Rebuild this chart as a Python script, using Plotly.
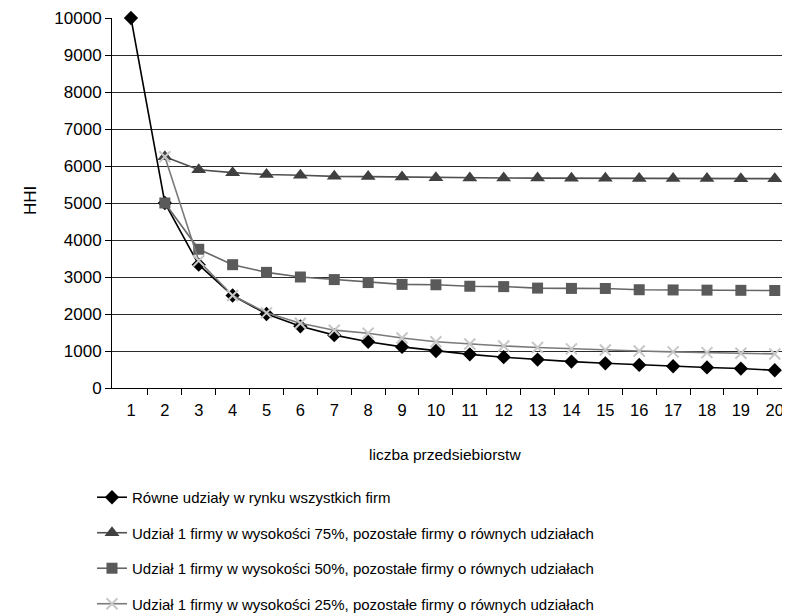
import plotly.graph_objects as go

firms = list(range(1, 21))
firms_from2 = list(range(2, 21))

equal_shares = [10000, 5000, 3333, 2500, 2000, 1667, 1429, 1250, 1111, 1000,
                909, 833, 769, 714, 667, 625, 588, 556, 526, 480]
share75 = [6250, 5900, 5820, 5770, 5750, 5720, 5714, 5703, 5680, 5675,
           5675, 5673, 5670, 5667, 5664, 5662, 5660, 5658, 5658]
share50 = [5000, 3750, 3333, 3125, 3000, 2930, 2850, 2800, 2790, 2750,
           2740, 2700, 2692, 2690, 2656, 2650, 2645, 2640, 2635]
share25 = [6250, 3438, 2500, 2031, 1750, 1563, 1480, 1350, 1250, 1188,
           1136, 1094, 1058, 1027, 1000, 977, 956, 938, 921]

names = [
    "Równe udziały w rynku wszystkich firm",
    "Udział 1 firmy w wysokości 75%, pozostałe firmy o równych udziałach",
    "Udział 1 firmy w wysokości 50%, pozostałe firmy o równych udziałach",
    "Udział 1 firmy w wysokości 25%, pozostałe firmy o równych udziałach",
]
y_ticks = list(range(0, 10001, 1000))
x_title = "liczba przedsiebiorstw"
y_title = "HHI"

fig = go.Figure()
fig.add_trace(go.Scatter(x=firms, y=equal_shares, name=names[0], mode="lines+markers",
                         line=dict(color="#000000", width=1.6), cliponaxis=False,
                         marker=dict(symbol="diamond", size=11, color="#000000"),
                         legendgroup="a"))
fig.add_trace(go.Scatter(x=firms_from2, y=share75, name=names[1], mode="lines+markers",
                         line=dict(color="#505050", width=1.6), cliponaxis=False,
                         marker=dict(symbol="triangle-up", size=13, color="#404040"),
                         legendgroup="b"))
fig.add_trace(go.Scatter(x=firms_from2, y=share50, name=names[2], mode="lines+markers",
                         line=dict(color="#666666", width=1.6), cliponaxis=False,
                         marker=dict(symbol="square", size=11, color="#5a5a5a"),
                         legendgroup="c"))
fig.add_trace(go.Scatter(x=firms_from2, y=share25, name=names[3], mode="lines+markers",
                         line=dict(color="#7a7a7a", width=1.6), cliponaxis=False,
                         marker=dict(symbol="x-thin", size=11, color="#c8c8c8",
                                     line=dict(color="#c8c8c8", width=2)),
                         legendgroup="d"))

fig.update_layout(
    width=782, height=606,
    margin=dict(l=104, r=0, t=10, b=226, autoexpand=False),
    paper_bgcolor="white", plot_bgcolor="white",
    font=dict(family="Liberation Sans, Arial, sans-serif", size=15, color="#000000"),
    legend=dict(xref="container", yref="container", x=0.1074, y=0.2195,
                xanchor="left", yanchor="top", tracegroupgap=13,
                font=dict(size=15), bgcolor="rgba(0,0,0,0)"),
    showlegend=True,
    annotations=[
        dict(text=x_title, xref="paper", yref="paper", x=0.491, y=-0.181,
             xanchor="center", yanchor="middle", showarrow=False,
             font=dict(size=15.5)),
        dict(text=y_title, xref="paper", yref="paper", x=-0.121, y=0.508,
             xanchor="center", yanchor="middle", showarrow=False,
             textangle=-90, font=dict(size=17)),
    ],
)
fig.update_xaxes(
    range=[0.44, 20.45], tickvals=firms, ticktext=[str(v) for v in firms],
    showgrid=False, zeroline=False, showline=True, linecolor="#000000", linewidth=1,
    ticks="", ticklabelstandoff=7, tickfont=dict(size=16.5),
    minor=dict(tickvals=[v + 0.5 for v in firms], ticks="outside", ticklen=6,
               tickcolor="#000000", showgrid=False),
)
fig.update_yaxes(
    range=[0, 10000], tickvals=y_ticks, ticktext=[str(v) for v in y_ticks],
    showgrid=True, gridcolor="#2a2a2a", gridwidth=1, zeroline=False,
    showline=True, linecolor="#000000", linewidth=1,
    ticks="outside", ticklen=6, tickcolor="#000000", tickfont=dict(size=17),
)
fig.write_html("out.html")
